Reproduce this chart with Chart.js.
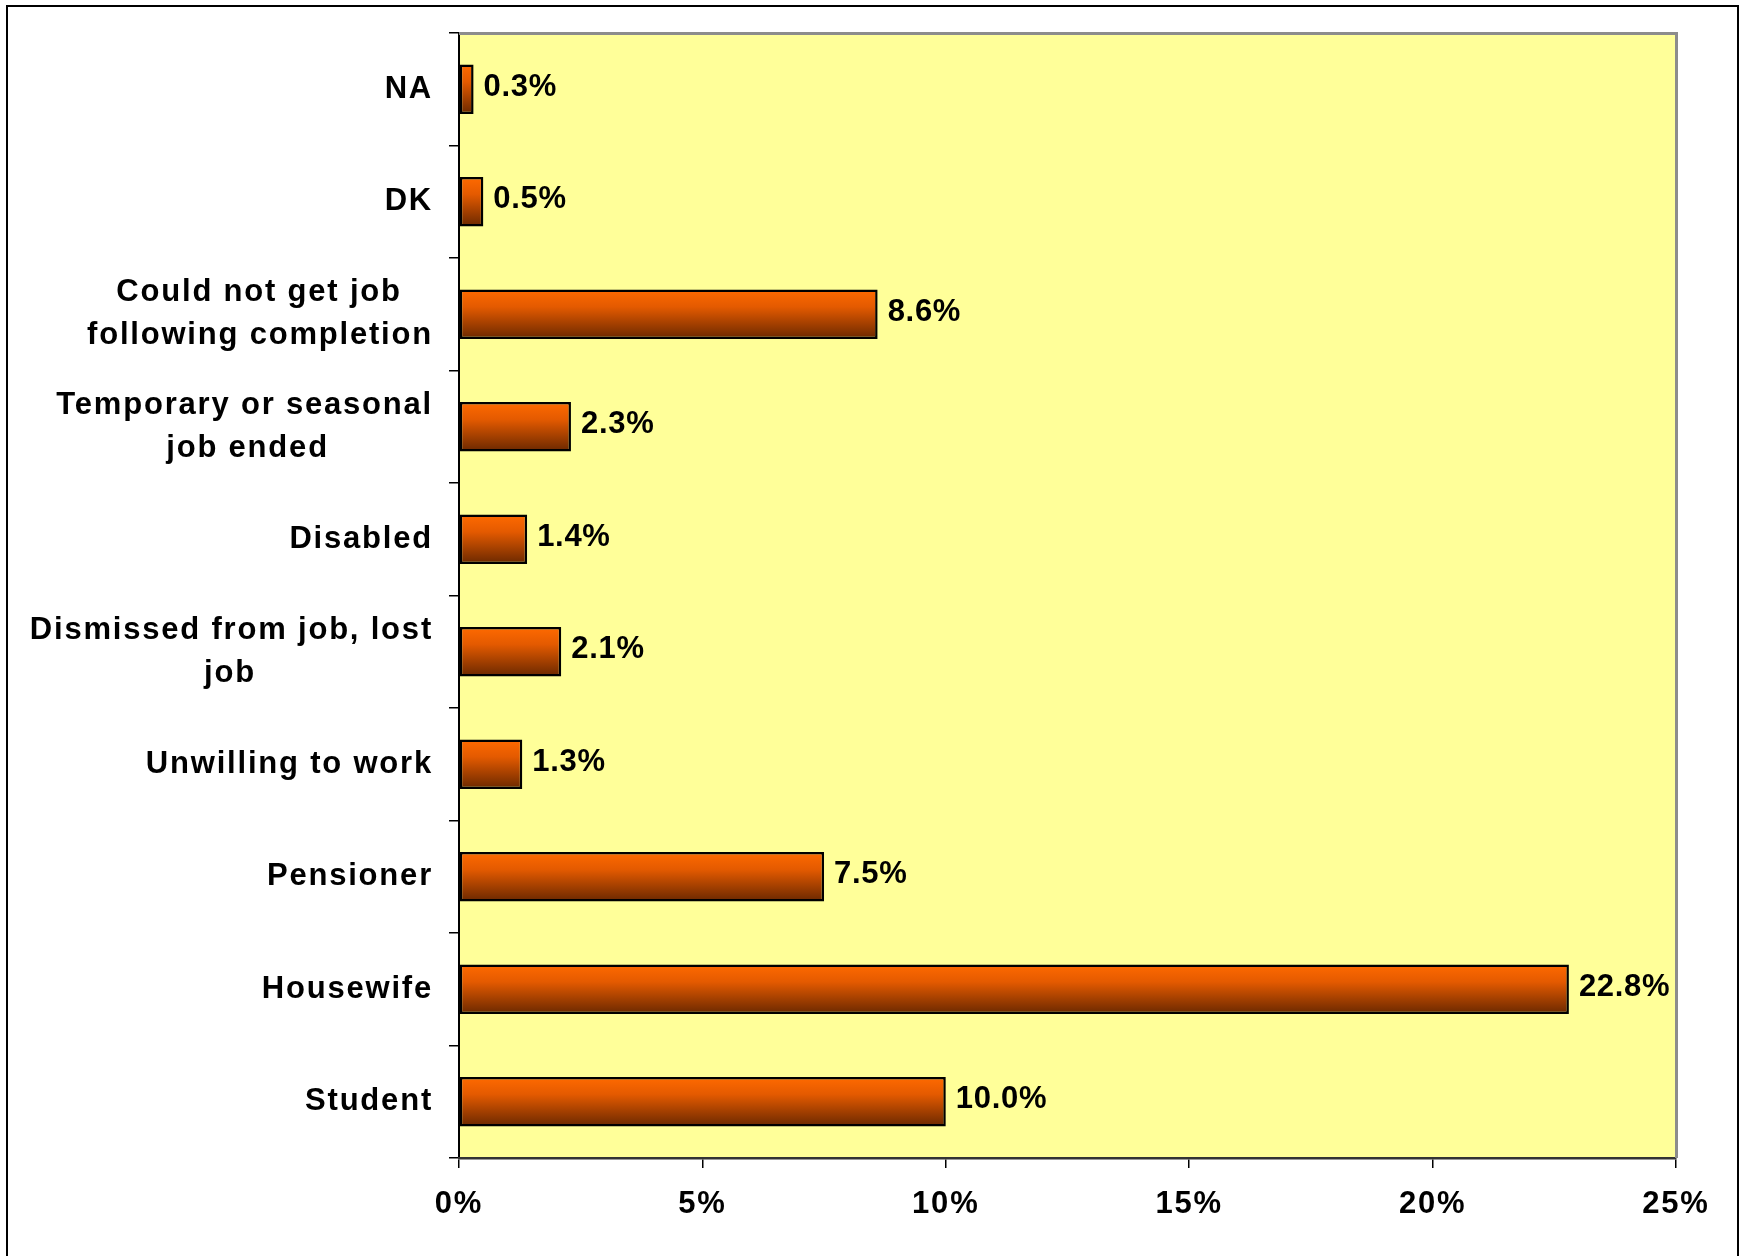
<!DOCTYPE html>
<html>
<head>
<meta charset="utf-8">
<script src="https://cdn.jsdelivr.net/npm/chart.js@4"></script>
<style>
  html, body { margin: 0; padding: 0; background: #fff; }
  #wrap { position: relative; width: 1744px; height: 1256px; overflow: hidden; }
  #frame { position: absolute; left: 6px; top: 5px; width: 1729px; height: 1300px; border: 2px solid #000; pointer-events: none; }
  canvas { position: absolute; left: 0; top: 0; }
</style>
</head>
<body>
<div id="wrap">
  <canvas id="c" width="1744" height="1256"></canvas>
  <div id="frame"></div>
</div>
<script>
const categories = [
  ["NA"],
  ["DK"],
  ["Could not get job", "following completion"],
  ["Temporary or seasonal", "job ended"],
  ["Disabled"],
  ["Dismissed from job, lost", "job"],
  ["Unwilling to work"],
  ["Pensioner"],
  ["Housewife"],
  ["Student"]
];
const values = [0.3, 0.5, 8.6, 2.3, 1.4, 2.1, 1.3, 7.5, 22.8, 10.0];
const xTicks = [0, 5, 10, 15, 20, 25];

const FONT_FAMILY = '"Liberation Sans", Arial, sans-serif';
const LABEL_SIZE = 31;
const AXIS_SPACING = '1.8px';
const VALUE_SPACING = '0.7px';

// pad shorter lines with trailing spaces so that right-aligned multi-line labels look centred
const mctx = document.createElement('canvas').getContext('2d');
mctx.font = 'bold ' + LABEL_SIZE + 'px ' + FONT_FAMILY;
mctx.letterSpacing = AXIS_SPACING;
function centerLines(lines) {
  if (lines.length < 2) return lines[0];
  const widths = lines.map(l => mctx.measureText(l).width);
  const maxW = Math.max(...widths);
  const sp = mctx.measureText(' ').width;
  return lines.map((l, i) => l + ' '.repeat(Math.round((maxW - widths[i]) / 2 / sp)));
}
const labels = categories.map(centerLines);

const BAR_PCT = 0.44;

const spacing = {
  id: 'spacing',
  beforeUpdate(chart) { chart.ctx.letterSpacing = AXIS_SPACING; },
  beforeLayout(chart) { chart.ctx.letterSpacing = AXIS_SPACING; },
  beforeDraw(chart) { chart.ctx.letterSpacing = AXIS_SPACING; }
};

const plotBg = {
  id: 'plotBg',
  beforeDraw(chart) {
    const {ctx, chartArea: a} = chart;
    ctx.save();
    ctx.fillStyle = '#FFFF99';
    ctx.fillRect(a.left, a.top, a.right - a.left, a.bottom - a.top);
    ctx.restore();
  },
  afterDraw(chart) {
    const {ctx, chartArea: a} = chart;
    ctx.save();
    ctx.strokeStyle = '#8c8c8c';
    ctx.lineWidth = 3;
    ctx.beginPath();
    ctx.moveTo(a.left, a.top + 0.5);
    ctx.lineTo(a.right + 0.5, a.top + 0.5);
    ctx.lineTo(a.right + 0.5, a.bottom);
    ctx.stroke();
    ctx.restore();
  }
};

const valueLabels = {
  id: 'valueLabels',
  afterDatasetsDraw(chart) {
    const {ctx} = chart;
    const meta = chart.getDatasetMeta(0);
    ctx.save();
    ctx.letterSpacing = VALUE_SPACING;
    ctx.font = 'bold ' + LABEL_SIZE + 'px ' + FONT_FAMILY;
    ctx.fillStyle = '#000';
    ctx.textAlign = 'left';
    ctx.textBaseline = 'middle';
    meta.data.forEach((el, i) => {
      ctx.fillText(values[i].toFixed(1) + '%', el.x + 10, el.y - 2);
    });
    ctx.restore();
  }
};

function barGradient(c) {
  const chart = c.chart;
  const ys = chart.scales && chart.scales.y;
  if (!chart.chartArea || !ys) return '#D85500';
  const center = ys.getPixelForValue(c.dataIndex);
  const half = (chart.chartArea.bottom - chart.chartArea.top) / labels.length * BAR_PCT / 2;
  const g = chart.ctx.createLinearGradient(0, center - half, 0, center + half);
  g.addColorStop(0, '#FF6A00');
  g.addColorStop(0.35, '#E45A00');
  g.addColorStop(1, '#6A2800');
  return g;
}

new Chart(document.getElementById('c'), {
  type: 'bar',
  data: {
    labels: labels,
    datasets: [{
      data: values,
      backgroundColor: barGradient,
      borderColor: '#000',
      borderWidth: 2.5,
      borderSkipped: false,
      barPercentage: BAR_PCT,
      categoryPercentage: 1
    }]
  },
  options: {
    indexAxis: 'y',
    responsive: false,
    animation: false,
    devicePixelRatio: 1,
    layout: { padding: { top: 33, right: 68, left: 0, bottom: 0 } },
    plugins: { legend: { display: false }, tooltip: { enabled: false } },
    scales: {
      y: {
        type: 'category',
        offset: true,
        grid: { offset: true, drawOnChartArea: false, drawTicks: true, tickLength: 10, color: '#000', lineWidth: 1.5 },
        border: { display: true, color: '#000', width: 2 },
        ticks: {
          color: '#000',
          padding: 16,
          autoSkip: false,
          font: { family: FONT_FAMILY, size: LABEL_SIZE, weight: 'bold', lineHeight: 1.38 }
        },
        afterFit(scale) { scale.width = 459; scale.paddingTop = 0; scale.paddingBottom = 0; }
      },
      x: {
        min: 0,
        max: 25,
        afterBuildTicks(scale) { scale.ticks = xTicks.map(v => ({ value: v })); },
        grid: { drawOnChartArea: false, drawTicks: true, tickLength: 10, color: '#000', lineWidth: 1.5 },
        border: { display: true, color: '#333', width: 2.5 },
        ticks: {
          color: '#000',
          padding: 18,
          maxRotation: 0,
          font: { family: FONT_FAMILY, size: LABEL_SIZE, weight: 'bold' },
          callback: (v) => v + '%'
        },
        afterFit(scale) { scale.height = 98; }
      }
    }
  },
  plugins: [spacing, plotBg, valueLabels]
});
</script>
</body>
</html>
